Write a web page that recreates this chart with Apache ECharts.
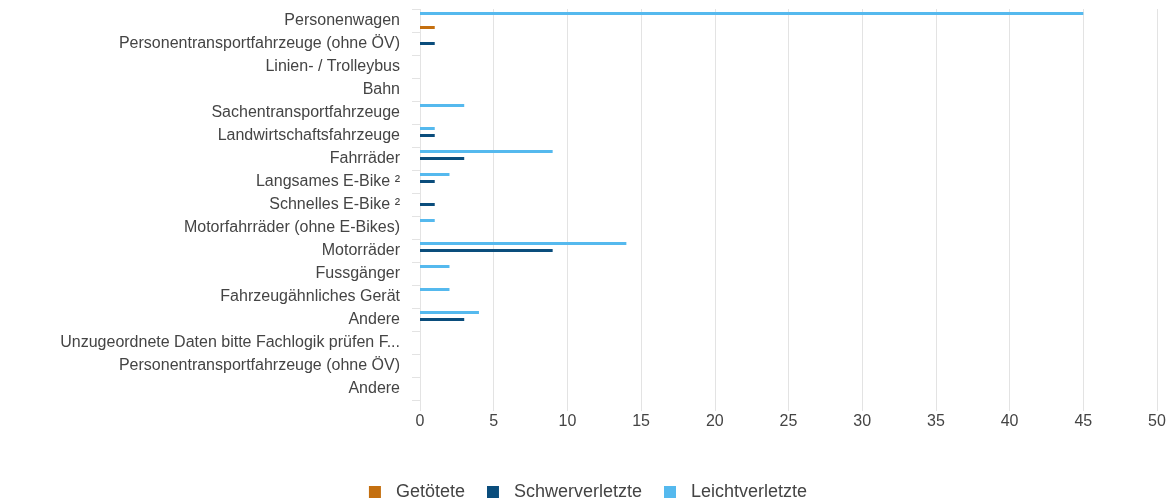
<!DOCTYPE html>
<html>
<head>
<meta charset="utf-8">
<script src="https://cdn.jsdelivr.net/npm/echarts@6/dist/echarts.min.js"></script>
<style>html,body{margin:0;padding:0;background:#fff}#c{width:1176px;height:502px}</style>
</head>
<body>
<div id="c"></div>
<script>
var categories = [
  'Personenwagen',
  'Personentransportfahrzeuge (ohne ÖV)',
  'Linien- / Trolleybus',
  'Bahn',
  'Sachentransportfahrzeuge',
  'Landwirtschaftsfahrzeuge',
  'Fahrräder',
  'Langsames E-Bike ²',
  'Schnelles E-Bike ²',
  'Motorfahrräder (ohne E-Bikes)',
  'Motorräder',
  'Fussgänger',
  'Fahrzeugähnliches Gerät',
  'Andere',
  'Unzugeordnete Daten bitte Fachlogik prüfen F...',
  'Personentransportfahrzeuge (ohne ÖV)',
  'Andere'
];
var getoetete       = [1, 0, 0, 0, 0, 0, 0, 0, 0, 0, 0, 0, 0, 0, 0, 0, 0];
var schwerverletzte = [0, 1, 0, 0, 0, 1, 3, 1, 1, 0, 9, 0, 0, 3, 0, 0, 0];
var leichtverletzte = [45, 0, 0, 0, 3, 1, 9, 2, 0, 1, 14, 2, 2, 4, 0, 0, 0];
var xTicks = [0, 5, 10, 15, 20, 25, 30, 35, 40, 45, 50];

var chart = echarts.init(document.getElementById('c'), null, {renderer: 'canvas'});
var font = 'Liberation Sans, Arial, sans-serif';
function bar(name, data, color) {
  return {
    name: name, type: 'bar', data: data, barWidth: 3, barGap: '133%',
    itemStyle: {color: color}
  };
}
chart.setOption({
  animation: false,
  grid: {left: 420, right: 19, top: 9, bottom: 102, containLabel: false},
  legend: {
    top: 478, left: 'center', itemWidth: 12, itemHeight: 12, itemGap: 22,
    icon: 'rect',
    textStyle: {fontFamily: font, fontSize: 18, color: '#444', padding: [0, 0, 0, 10]},
    data: ['Getötete', 'Schwerverletzte', 'Leichtverletzte']
  },
  xAxis: {
    type: 'value', min: xTicks[0], max: xTicks[xTicks.length - 1], interval: 5,
    axisLine: {show: false},
    axisTick: {show: true, length: 11, lineStyle: {color: '#e3e3e3'}},
    splitLine: {show: true, lineStyle: {color: '#e3e3e3'}},
    axisLabel: {fontFamily: font, fontSize: 16, color: '#444', margin: 14}
  },
  yAxis: {
    type: 'category', data: categories, inverse: true,
    axisLine: {show: false},
    axisTick: {show: true, length: 8, lineStyle: {color: '#e3e3e3'}},
    axisLabel: {fontFamily: font, fontSize: 16, color: '#444', margin: 20, interval: 0}
  },
  series: [
    bar('Leichtverletzte', leichtverletzte, '#55b9ee'),
    bar('Schwerverletzte', schwerverletzte, '#0a4d7c'),
    bar('Getötete', getoetete, '#c46f0f')
  ]
});
</script>
</body>
</html>
